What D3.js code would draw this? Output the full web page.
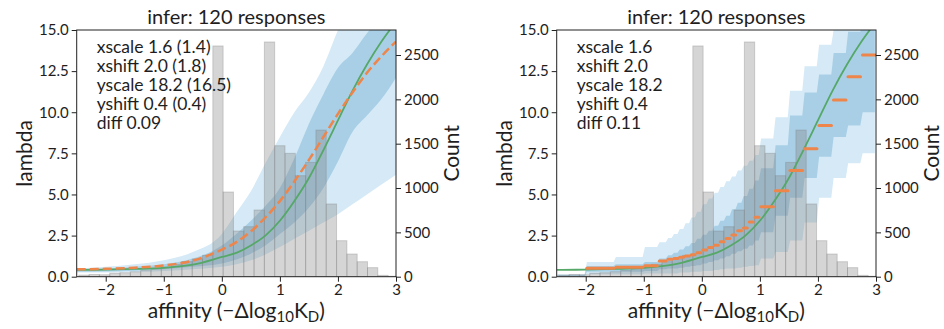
<!DOCTYPE html>
<html>
<head>
<meta charset="utf-8">
<script src="https://cdn.jsdelivr.net/npm/d3@7"></script>
<style>
  body { margin: 0; background: #fff; }
  svg text { font-family: Lato, "DejaVu Sans", sans-serif; fill: #1e1e1e; }
</style>
</head>
<body>
<div class="chart"></div>
<script>
// histogram of affinities (shared by both panels)
const histEdges = [-2.464, -2.286, -2.109, -1.931, -1.754, -1.576, -1.398, -1.221, -1.043, -0.866,
  -0.688, -0.510, -0.333, -0.155, 0.022, 0.200, 0.378, 0.555, 0.733, 0.910, 1.088, 1.266,
  1.443, 1.621, 1.798, 1.976, 2.154, 2.331, 2.509, 2.686, 2.864, 3.042];
const histCounts = [18, 25, 22, 40, 45, 55, 70, 90, 110, 140, 170, 200, 240,
  2602, 955, 515, 564, 752, 2647, 1477, 1391, 1139, 1289, 1654, 820, 406, 256, 169, 102, 15, 5];

// left panel: smooth curves
const curveX = [-2.5, -2, -1.5, -1, -0.5, 0, 0.25, 0.5, 0.75, 1, 1.25, 1.5, 1.75, 2, 2.25, 2.5, 2.75, 3];
const trueLambda = [0.41, 0.43, 0.47, 0.54, 0.73, 1.2, 1.45, 1.9, 2.5, 3.4, 4.6, 6.0, 7.7, 9.5, 11.3, 12.9, 14.3, 15.5];
const inferLambda = [0.45, 0.48, 0.55, 0.68, 0.98, 1.65, 2.1, 2.75, 3.6, 4.6, 5.8, 7.1, 8.5, 9.9, 11.2, 12.4, 13.4, 14.3];
const outerLo = [0.25, 0.25, 0.28, 0.35, 0.45, 0.6, 0.75, 1.0, 1.35, 1.8, 2.3, 2.8, 3.3, 3.8, 4.4, 5.0, 5.6, 6.2];
const outerHi = [0.5, 0.6, 0.75, 1.0, 1.5, 2.6, 3.9, 5.2, 6.9, 8.5, 10.0, 11.2, 12.8, 15.0, 17, 18, 19, 20];
const innerLo = [0.3, 0.32, 0.36, 0.45, 0.6, 0.8, 1.05, 1.4, 1.9, 2.6, 3.3, 4.2, 5.4, 7.0, 8.8, 9.8, 10.8, 12.1];
const innerHi = [0.45, 0.5, 0.6, 0.75, 1.1, 1.9, 2.6, 3.4, 4.3, 5.4, 7.2, 9.3, 11.1, 12.7, 13.6, 14.8, 15.8, 16.8];

// right panel: binned
const binX0 = [-2.5, -2.0, -1.5, -1.0, -0.75, -0.6, -0.5, -0.4, -0.3, -0.2, -0.1, 0, 0.1, 0.2, 0.3, 0.4,
  0.5, 0.6, 0.7, 0.8, 0.9, 1.0, 1.25, 1.5, 1.75, 2.0, 2.25, 2.5, 2.75];
const binX1 = [-2.0, -1.5, -1.0, -0.75, -0.6, -0.5, -0.4, -0.3, -0.2, -0.1, 0, 0.1, 0.2, 0.3, 0.4, 0.5,
  0.6, 0.7, 0.8, 0.9, 1.0, 1.25, 1.5, 1.75, 2.0, 2.25, 2.5, 2.75, 3.0];
const binMean = [null, 0.51, 0.57, 0.67, 0.95, 1.06, 1.1, 1.18, 1.26, 1.34, 1.46, 1.63, 1.77, 1.91, 2.13, 2.33,
  2.54, 2.8, 2.96, 3.33, 3.61, 4.26, 5.23, 6.45, 7.78, 9.2, 10.74, 12.16, 13.48];
const binOuterLo = [0.0, 0.15, 0.15, 0.2, 0.2, 0.2, 0.2, 0.25, 0.25, 0.3, 0.3, 0.35, 0.35, 0.4, 0.45, 0.5,
  0.5, 0.55, 0.6, 0.65, 0.7, 1.1, 1.5, 2.2, 3.3, 4.8, 6.0, 6.9, 7.5];
const binInnerLo = [0.02, 0.3, 0.3, 0.35, 0.45, 0.5, 0.5, 0.55, 0.6, 0.65, 0.7, 0.8, 0.9, 1.0, 1.1, 1.25,
  1.4, 1.55, 1.7, 1.9, 2.2, 2.7, 3.7, 4.8, 6.0, 7.3, 8.5, 9.2, 10.0];
const binInnerHi = [0.1, 0.65, 0.75, 0.9, 1.1, 1.3, 1.45, 1.65, 1.85, 2.05, 2.3, 2.55, 2.8, 3.1, 3.4, 3.7,
  4.1, 4.5, 4.9, 5.35, 5.85, 6.6, 8.0, 9.8, 11.2, 12.3, 13.6, 14.9, 16];
const binOuterHi = [0.15, 0.9, 1.2, 1.8, 2.1, 2.35, 2.6, 2.9, 3.25, 3.6, 3.95, 4.4, 4.75, 5.1, 5.45, 5.8,
  6.1, 6.45, 6.75, 7.05, 7.4, 8.4, 9.7, 11.3, 12.8, 14.1, 15.0, 16, 17];

const leftText = ['xscale 1.6 (1.4)', 'xshift 2.0 (1.8)', 'yscale 18.2 (16.5)', 'yshift 0.4 (0.4)', 'diff 0.09'];
const rightText = ['xscale 1.6', 'xshift 2.0', 'yscale 18.2', 'yshift 0.4', 'diff 0.11'];
const xTicks = [-2, -1, 0, 1, 2, 3];
const yTicks = [0, 2.5, 5, 7.5, 10, 12.5, 15];
const countTicks = [0, 500, 1000, 1500, 2000, 2500];

const W = 944, H = 329;
const plotTop = 30, plotBottom = 276.7, pw = 319.3;
const lightBlue = '#d5eaf6', midBlue = '#a9cfe6';
const green = '#55a868', orange = '#ee854a';

const svg = d3.select('.chart').append('svg')
  .attr('width', W).attr('height', H);

function panel(left, mode, notes, idx) {
  const x = d3.scaleLinear().domain([-2.5, 3]).range([left, left + pw]);
  const y = d3.scaleLinear().domain([0, 15]).range([plotBottom, plotTop]);
  const yc = d3.scaleLinear().domain([0, 2782]).range([plotBottom, plotTop]);
  const g = svg.append('g');

  g.append('clipPath').attr('id', 'clip' + idx)
    .append('rect').attr('x', left).attr('y', plotTop).attr('width', pw).attr('height', plotBottom - plotTop);
  const plot = g.append('g').attr('clip-path', 'url(#clip' + idx + ')');

  if (mode === 'smooth') {
    const pts = curveX.map((v, i) => i);
    const band = (lo, hi) => d3.area().curve(d3.curveMonotoneX)
      .x(i => x(curveX[i])).y0(i => y(lo[i])).y1(i => y(hi[i]));
    plot.append('path').attr('d', band(outerLo, outerHi)(pts)).attr('fill', lightBlue);
    plot.append('path').attr('d', band(innerLo, innerHi)(pts)).attr('fill', midBlue);
  } else {
    const inset = 0.02;
    const steps = [];
    binX0.forEach((b, i) => {
      steps.push({x: b + (i ? inset : 0), i});
      steps.push({x: binX1[i] - inset, i});
    });
    const band = (lo, hi) => d3.area()
      .x(d => x(d.x)).y0(d => y(lo[d.i])).y1(d => y(hi[d.i]));
    plot.append('path').attr('d', band(binOuterLo, binOuterHi)(steps)).attr('fill', lightBlue);
    plot.append('path').attr('d', band(binInnerLo, binInnerHi)(steps)).attr('fill', midBlue);
  }

  // histogram on the twin axis
  plot.selectAll('rect.bar')
    .data(histCounts)
    .enter()
    .append('rect')
    .attr('class', 'bar')
    .attr('x', (d, i) => x(histEdges[i]))
    .attr('width', (d, i) => x(histEdges[i + 1]) - x(histEdges[i]))
    .attr('y', d => yc(d))
    .attr('height', d => plotBottom - yc(d))
    .attr('fill', 'grey').attr('fill-opacity', 0.33)
    .attr('stroke', 'grey').attr('stroke-opacity', 0.33).attr('stroke-width', 1);

  const line = d3.line().curve(d3.curveMonotoneX)
    .x(i => x(curveX[i]));
  const idxs = curveX.map((v, i) => i);
  plot.append('path')
    .attr('d', line.y(i => y(trueLambda[i]))(idxs))
    .attr('fill', 'none').attr('stroke', green).attr('stroke-width', 1.8);

  if (mode === 'smooth') {
    plot.append('path')
      .attr('d', line.y(i => y(inferLambda[i]))(idxs))
      .attr('fill', 'none').attr('stroke', orange).attr('stroke-width', 2.5)
      .attr('stroke-dasharray', '9,4');
  } else {
    plot.selectAll('line.mean')
      .data(binMean.map((m, i) => ({m, i})).filter(d => d.m !== null))
      .enter()
      .append('line')
      .attr('class', 'mean')
      .attr('x1', d => x(binX0[d.i]) + 1).attr('x2', d => x(binX1[d.i]) - 1)
      .attr('y1', d => y(d.m)).attr('y2', d => y(d.m))
      .attr('stroke', orange).attr('stroke-width', 3).attr('stroke-linecap', 'round');
  }

  // frame
  g.append('rect').attr('x', left).attr('y', plotTop).attr('width', pw).attr('height', plotBottom - plotTop)
    .attr('fill', 'none').attr('stroke', '#222').attr('stroke-width', 1);

  const xAxis = g.append('g').attr('transform', `translate(0,${plotBottom})`)
    .call(d3.axisBottom(x).tickValues(xTicks).tickSize(5).tickPadding(3)
      .tickFormat(d => d < 0 ? '\u2212' + Math.abs(d) : d));
  const yAxis = g.append('g').attr('transform', `translate(${left},0)`)
    .call(d3.axisLeft(y).tickValues(yTicks).tickSize(5).tickPadding(3).tickFormat(d3.format('.1f')));
  const cAxis = g.append('g').attr('transform', `translate(${left + pw},0)`)
    .call(d3.axisRight(yc).tickValues(countTicks).tickSize(5).tickPadding(3).tickFormat(d3.format('d')));
  [xAxis, yAxis, cAxis].forEach(a => {
    a.select('.domain').remove();
    a.selectAll('line').attr('stroke', '#222');
    a.selectAll('text').attr('font-size', 15).attr('font-family', 'Lato').attr('fill', '#1e1e1e');
  });

  g.append('text').attr('x', left + pw / 2).attr('y', 24).attr('text-anchor', 'middle')
    .attr('font-size', 20).text('infer: 120 responses');

  g.append('text').attr('transform', `translate(${left - 45},${(plotTop + plotBottom) / 2}) rotate(-90)`)
    .attr('text-anchor', 'middle').attr('font-size', 21).text('lambda');

  g.append('text').attr('transform', `translate(${left + pw + 63},${(plotTop + plotBottom) / 2}) rotate(-90)`)
    .attr('text-anchor', 'middle').attr('font-size', 21).text('Count');

  const xl = g.append('text').attr('x', left + pw / 2).attr('y', 318)
    .attr('text-anchor', 'middle').attr('font-size', 21);
  xl.append('tspan').text('affinity (\u2212\u0394log');
  xl.append('tspan').attr('font-size', 15).attr('dy', 4).text('10');
  xl.append('tspan').attr('dy', -4).text('K');
  xl.append('tspan').attr('font-size', 15).attr('dy', 4).text('D');
  xl.append('tspan').attr('dy', -4).text(')');

  g.selectAll('text.note')
    .data(notes)
    .enter()
    .append('text')
    .attr('class', 'note')
    .attr('x', left + 20)
    .attr('y', (d, i) => 53.3 + i * 19)
    .attr('font-size', 17.5)
    .text(d => d);
}

panel(76.7, 'smooth', leftText, 0);
panel(556.7, 'step', rightText, 1);
</script>
</body>
</html>
